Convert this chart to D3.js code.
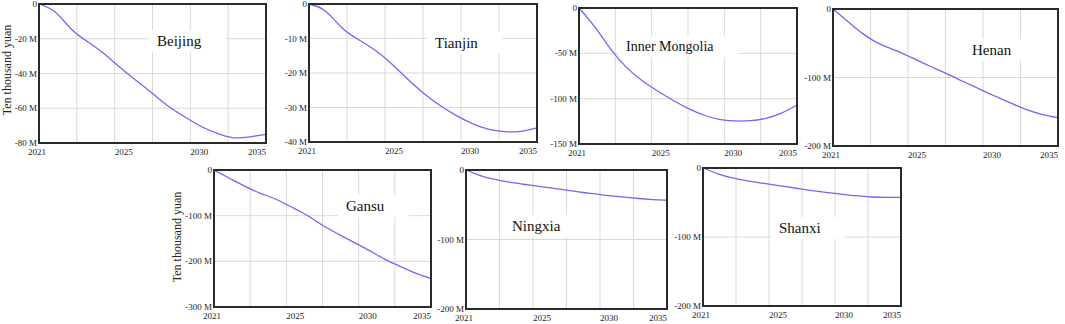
<!DOCTYPE html>
<html>
<head>
<meta charset="utf-8">
<script src="https://cdn.jsdelivr.net/npm/d3@7"></script>
<style>
	body { margin: 0; background: #fff; }
	svg text { font-family: "Liberation Serif", "DejaVu Serif", serif; }
</style>
</head>
<body>
<svg id="chart" width="1065" height="324"></svg>
<script>
const years = [2021, 2022, 2023, 2024, 2025, 2026, 2027, 2028, 2029, 2030, 2031, 2032, 2033, 2034, 2035]
const xTickLabels = ['2021', '', '2025', '', '2030', '', '2035']

const beijing = [0, -4.6, -14.5, -21.7, -28.5, -36.5, -44, -51.5, -59, -65, -70.5, -74.5, -77, -76.5, -75]
const tianjin = [0, -2, -6.8, -10.2, -13.2, -17, -21.5, -25.7, -29.3, -32.2, -34.6, -36.3, -37, -36.9, -35.9]
const innerMongolia = [0, -20.6, -44.5, -64.7, -79.4, -91, -101.5, -110.7, -118, -122.8, -124.6, -124.3, -121.7, -116, -107]
const henan = [0, -19.7, -38.5, -52, -61.4, -72.2, -83.2, -93.6, -104.7, -115.6, -126.3, -136.6, -146.6, -153.8, -158.7]
const gansu = [0, -18, -36, -51, -64, -81, -99, -121, -140, -158, -176, -195, -211, -226, -238]
const ningxia = [0, -8, -13.5, -17.5, -20.5, -23.3, -26, -29, -32, -34.5, -37, -39, -41, -42.5, -43.5]
const shanxi = [0, -8, -14, -18, -21.5, -24.5, -27.5, -30.5, -33.5, -36, -38.5, -40.5, -42, -42.5, -42.5]

const beijingTicks = [0, -20, -40, -60, -80]
const tianjinTicks = [0, -10, -20, -30, -40]
const innerMongoliaTicks = [0, -50, -100, -150]
const henanTicks = [0, -100, -200]
const gansuTicks = [0, -100, -200, -300]
const ningxiaTicks = [0, -100, -200]
const shanxiTicks = [0, -100, -200]

const panels = [
	{ name: 'Beijing', values: beijing, ticks: beijingTicks, box: [39, 4, 266, 143], title: [157, 46], ylabel: [7, 70] },
	{ name: 'Tianjin', values: tianjin, ticks: tianjinTicks, box: [309, 4, 537, 142], title: [435, 48] },
	{ name: 'Inner Mongolia', values: innerMongolia, ticks: innerMongoliaTicks, box: [579, 8, 797, 144], title: [626, 51], size: 14 },
	{ name: 'Henan', values: henan, ticks: henanTicks, box: [833, 9, 1058, 146], title: [972, 55] },
	{ name: 'Gansu', values: gansu, ticks: gansuTicks, box: [214, 170, 431, 307], title: [346, 211], ylabel: [177, 237] },
	{ name: 'Ningxia', values: ningxia, ticks: ningxiaTicks, box: [466, 170, 667, 309], title: [512, 231] },
	{ name: 'Shanxi', values: shanxi, ticks: shanxiTicks, box: [703, 168, 901, 306], title: [779, 233] }
]

const FONT = '"Liberation Serif", "DejaVu Serif", serif'
const svg = d3.select('#chart')

const drawPanel = p => {
	const [x0, y0, x1, y1] = p.box
	const xScale = d3.scaleLinear()
		.domain([years[0], years[years.length - 1]])
		.range([x0, x1])
	const yScale = d3.scaleLinear()
		.domain([d3.min(p.ticks), 0])
		.range([y1, y0])

	const g = svg.append('g')

	// grid
	const nGrid = xTickLabels.length - 1
	const gridYears = d3.range(nGrid + 1).map(i => years[0] + i * (years[years.length - 1] - years[0]) / nGrid)
	g.selectAll('line.vgrid')
		.data(gridYears)
		.enter()
		.append('line')
		.attr('x1', d => xScale(d))
		.attr('x2', d => xScale(d))
		.attr('y1', y0)
		.attr('y2', y1)
		.style('stroke', '#d9d9d9')

	g.selectAll('line.hgrid')
		.data(p.ticks)
		.enter()
		.append('line')
		.attr('x1', x0)
		.attr('x2', x1)
		.attr('y1', d => yScale(d))
		.attr('y2', d => yScale(d))
		.style('stroke', '#d9d9d9')

	// title with white box behind it
	const fs = p.size || 15
	const title = g.append('text')
		.attr('x', p.title[0])
		.attr('y', p.title[1])
		.attr('font-family', FONT)
		.style('font-size', fs + 'px')
		.style('fill', '#111')
		.text(p.name)
	const bb = title.node().getBBox()
	g.insert('rect', 'text')
		.attr('x', bb.x - 8)
		.attr('y', bb.y - 3)
		.attr('width', bb.width + 32)
		.attr('height', bb.height + 6)
		.style('fill', '#fff')

	// curve
	const line = d3.line()
		.x((d, i) => xScale(years[i]))
		.y(d => yScale(d))
		.curve(d3.curveNatural)

	g.append('path')
		.attr('d', line(p.values))
		.style('fill', 'none')
		.style('stroke', '#6b6bf5')
		.style('stroke-width', 1.3)

	// frame
	g.append('rect')
		.attr('x', x0)
		.attr('y', y0)
		.attr('width', x1 - x0)
		.attr('height', y1 - y0)
		.style('fill', 'none')
		.style('stroke', '#2a2a2a')
		.style('stroke-width', 2)

	// y tick labels
	g.selectAll('text.ytick')
		.data(p.ticks)
		.enter()
		.append('text')
		.attr('x', x0 - 2)
		.attr('y', d => yScale(d) + 3)
		.attr('text-anchor', 'end')
		.attr('font-family', FONT)
		.style('font-size', '9px')
		.style('fill', '#222')
		.text(d => d === 0 ? '0' : d + ' M')

	// x tick labels
	const last = xTickLabels.length - 1
	const shown = xTickLabels.map((t, k) => ({ t, k })).filter(d => d.t !== '')
	g.selectAll('text.xtick')
		.data(shown)
		.enter()
		.append('text')
		.attr('x', d => xScale(gridYears[d.k]) + (d.k === 0 ? -2 : 0))
		.attr('y', y1 + 12)
		.attr('text-anchor', d => d.k === 0 ? 'middle' : (d.k === last ? 'end' : 'start'))
		.attr('font-family', FONT)
		.style('font-size', '9px')
		.style('fill', '#222')
		.text(d => d.t)

	if (p.ylabel) {
		g.append('text')
			.attr('transform', `translate(${p.ylabel[0]},${p.ylabel[1]}) rotate(-90)`)
			.attr('text-anchor', 'middle')
			.attr('dy', '0.35em')
			.attr('font-family', FONT)
			.style('font-size', '12px')
			.style('fill', '#222')
			.text('Ten thousand yuan')
	}
}

panels.forEach(drawPanel)
</script>
</body>
</html>
